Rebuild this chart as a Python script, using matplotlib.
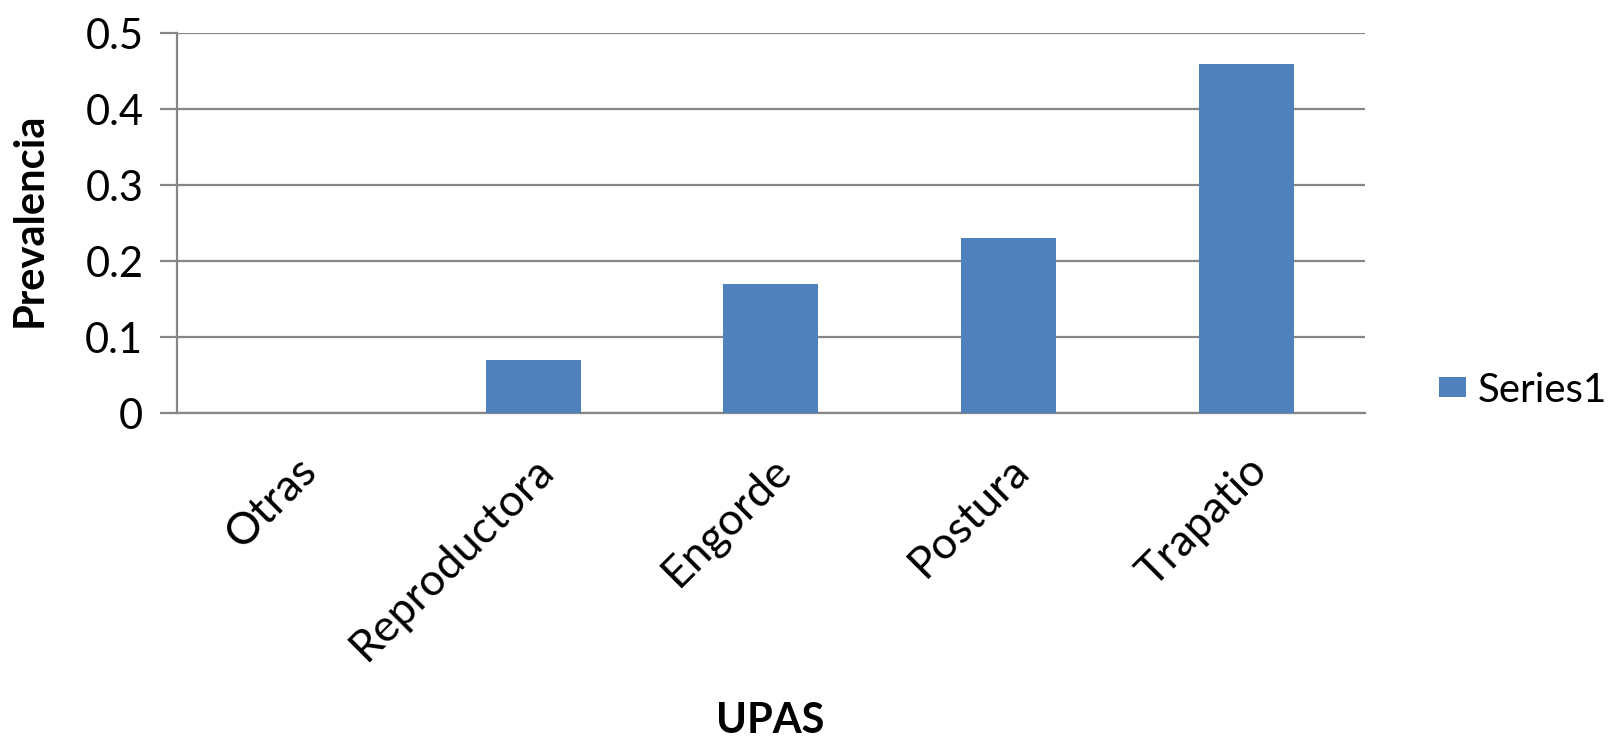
import matplotlib.pyplot as plt
import numpy as np

# prevalence per production unit type
categories = ["Otras", "Reproductora", "Engorde", "Postura", "Trapatio"]
prevalence = [0.0, 0.07, 0.17, 0.23, 0.46]
series_name = "Series1"

plt.rcParams['font.family'] = ['Lato', 'DejaVu Sans']

fig = plt.figure(figsize=(16.21, 7.39), dpi=100)
ax = fig.add_axes([0.109, 0.441, 0.733, 0.514])

x = np.arange(len(categories))
ax.bar(x, prevalence, width=0.4, color="#4F81BD", label=series_name, zorder=3)

ax.set_xlim(-0.5, len(categories) - 0.5)
ax.set_ylim(0, 0.5)
ax.set_yticks([0, 0.1, 0.2, 0.3, 0.4, 0.5])
ax.set_yticklabels(["0", "0.1", "0.2", "0.3", "0.4", "0.5"])
ax.yaxis.grid(True, color="#868686", linewidth=1.6, zorder=0)

for side in ["top", "right"]:
    ax.spines[side].set_visible(False)
for side in ["left", "bottom"]:
    ax.spines[side].set_color("#868686")
    ax.spines[side].set_linewidth(1.6)

ax.tick_params(axis="y", length=12, width=1.6, color="#868686", labelsize=30, pad=12)
ax.tick_params(axis="x", length=0, labelsize=32, pad=26)
ax.set_xticks(x)
ax.set_xticklabels(categories, rotation=45, ha="right", rotation_mode="anchor")

# axis titles
fig.text(0.018, 0.702, "Prevalencia", fontsize=30, fontweight="bold",
         rotation=90, ha="center", va="center")
fig.text(0.475, 0.008, "UPAS", fontsize=30, fontweight="bold", ha="center", va="baseline")

fig.legend(loc="center left", bbox_to_anchor=(0.888, 0.472), frameon=False, fontsize=29,
           borderpad=0, borderaxespad=0, handlelength=0.65, handleheight=0.4,
           handletextpad=0.3)

fig.savefig("out.png", dpi=100, facecolor="white")
